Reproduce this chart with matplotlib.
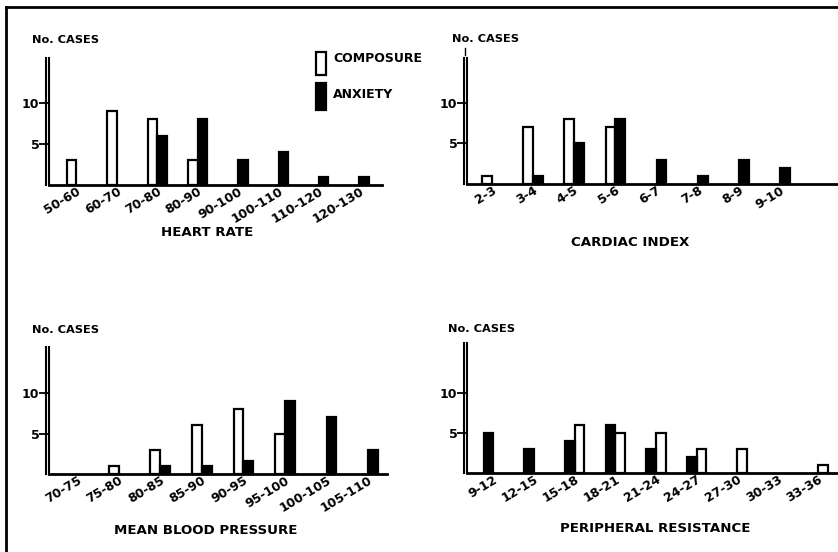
import matplotlib
matplotlib.use('Agg')
import matplotlib.pyplot as plt
from matplotlib.transforms import offset_copy
from matplotlib.patches import Rectangle
from matplotlib.lines import Line2D

plt.rcParams['font.family'] = ['DejaVu Sans']
plt.rcParams['font.weight'] = 'bold'

# ---------------- data ----------------
hr_cats = ['50-60', '60-70', '70-80', '80-90', '90-100', '100-110', '110-120', '120-130']
hr_comp = [3, 9, 8, 3, 0, 0, 0, 0]
hr_anx = [0, 0, 6, 8, 3, 4, 1, 1]

ci_cats = ['2-3', '3-4', '4-5', '5-6', '6-7', '7-8', '8-9', '9-10']
ci_comp = [1, 7, 8, 7, 0, 0, 0, 0]
ci_anx = [0, 1, 5, 8, 3, 1, 3, 2]

mbp_cats = ['70-75', '75-80', '80-85', '85-90', '90-95', '95-100', '100-105', '105-110']
mbp_comp = [0, 1, 3, 6, 8, 5, 0, 0]
mbp_anx = [0, 0, 1, 1, 1.6, 9, 7, 3]

pr_cats = ['9-12', '12-15', '15-18', '18-21', '21-24', '24-27', '27-30', '30-33', '33-36']
pr_comp = [0, 0, 6, 5, 5, 3, 3, 0, 1]
pr_anx = [5, 3, 4, 6, 3, 2, 0, 0, 0]

series_names = ['COMPOSURE', 'ANXIETY']
y_ticks = [5, 10]
y_ticklabels = ['5', '10']

W, H = 838, 552
fig = plt.figure(figsize=(W / 100, H / 100), dpi=100)
fig.patch.set_facecolor('white')


def px_rect(l, t, r, b):
    return [l / W, 1 - b / H, (r - l) / W, (b - t) / H]


panels = [
    dict(cats=hr_cats, comp=hr_comp, anx=hr_anx, comp_first=True,
         rect=(49, 58, 382, 185), xlim=(-0.68, 7.56), ytop=15.5,
         xlabel='HEART RATE', xlab_pos=(207, 232), ylab_pos=(32, 40)),
    dict(cats=ci_cats, comp=ci_comp, anx=ci_anx, comp_first=True,
         rect=(467, 58, 838, 184), xlim=(-0.6, 8.4), ytop=15.55,
         xlabel='CARDIAC INDEX', xlab_pos=(630, 242), ylab_pos=(452, 39)),
    dict(cats=mbp_cats, comp=mbp_comp, anx=mbp_anx, comp_first=True,
         rect=(49, 347, 387, 474), xlim=(-0.67, 7.45), ytop=15.7,
         xlabel='MEAN BLOOD PRESSURE', xlab_pos=(206, 530), ylab_pos=(32, 330)),
    dict(cats=pr_cats, comp=pr_comp, anx=pr_anx, comp_first=False,
         rect=(467, 343, 838, 473), xlim=(-0.65, 8.48), ytop=16.25,
         xlabel='PERIPHERAL RESISTANCE', xlab_pos=(655, 528), ylab_pos=(448, 329)),
]

w = 0.235
axes = []
for p in panels:
    ax = fig.add_axes(px_rect(*p['rect']))
    axes.append(ax)
    n = len(p['cats'])
    xs = list(range(n))
    if p['comp_first']:
        comp_x = [x - w / 2 for x in xs]
        anx_x = [x + w / 2 for x in xs]
    else:
        anx_x = [x - w / 2 for x in xs]
        comp_x = [x + w / 2 for x in xs]
    cx = [x for x, v in zip(comp_x, p['comp']) if v > 0]
    cv = [v for v in p['comp'] if v > 0]
    axx = [x for x, v in zip(anx_x, p['anx']) if v > 0]
    av = [v for v in p['anx'] if v > 0]
    ax.bar(cx, cv, width=w, facecolor='white', edgecolor='black', linewidth=1.6, zorder=3)
    ax.bar(axx, av, width=w, facecolor='black', edgecolor='black', linewidth=1.6, zorder=3)
    ax.set_xlim(*p['xlim'])
    ax.set_ylim(0, p['ytop'])
    for s in ['top', 'right']:
        ax.spines[s].set_visible(False)
    ax.spines['bottom'].set_linewidth(2.0)
    ax.spines['left'].set_linewidth(1.5)
    # double y axis line
    tr = offset_copy(ax.transAxes, fig=fig, x=-3.5, y=0, units='dots')
    ax.add_line(Line2D([0, 0], [0, 1], transform=tr, color='black', lw=1.5, clip_on=False))
    ax.set_yticks(y_ticks)
    ax.set_yticklabels(y_ticklabels, fontsize=9, fontweight='bold')
    ax.tick_params(axis='y', direction='out', length=7, width=1.3, pad=0)
    ax.set_xticks(xs)
    ax.set_xticklabels(p['cats'], rotation=31, ha='right', va='top',
                       rotation_mode='anchor', fontsize=9, fontweight='bold')
    ax.tick_params(axis='x', length=0, pad=0)
    fig.text(p['xlab_pos'][0] / W, 1 - p['xlab_pos'][1] / H, p['xlabel'],
             ha='center', va='center', fontsize=9.6, fontweight='bold')
    fig.text(p['ylab_pos'][0] / W, 1 - p['ylab_pos'][1] / H, 'No. CASES',
             ha='left', va='center', fontsize=8.2, fontweight='bold')

# small mark above cardiac-index axis
fig.add_artist(Line2D([465 / W, 465 / W], [1 - 48 / H, 1 - 55 / H], color='black', lw=1))

# legend (drawn as key boxes with labels)
fig.add_artist(Rectangle((316 / W, 1 - 75 / H), 10 / W, 23 / H, facecolor='white',
                         edgecolor='black', lw=1.6, transform=fig.transFigure))
fig.add_artist(Rectangle((316 / W, 1 - 110 / H), 10 / W, 27 / H, facecolor='black',
                         edgecolor='black', lw=1.6, transform=fig.transFigure))
fig.text(333 / W, 1 - 58 / H, series_names[0], ha='left', va='center',
         fontsize=9, fontweight='bold')
fig.text(333 / W, 1 - 95 / H, series_names[1], ha='left', va='center',
         fontsize=9, fontweight='bold')

# frame lines
fig.add_artist(Line2D([6 / W, 6 / W], [0, 1 - 7 / H], color='black', lw=2))
fig.add_artist(Line2D([6 / W, 1], [1 - 7 / H, 1 - 7 / H], color='black', lw=2))

fig.savefig('out.png', dpi=100, facecolor='white')
